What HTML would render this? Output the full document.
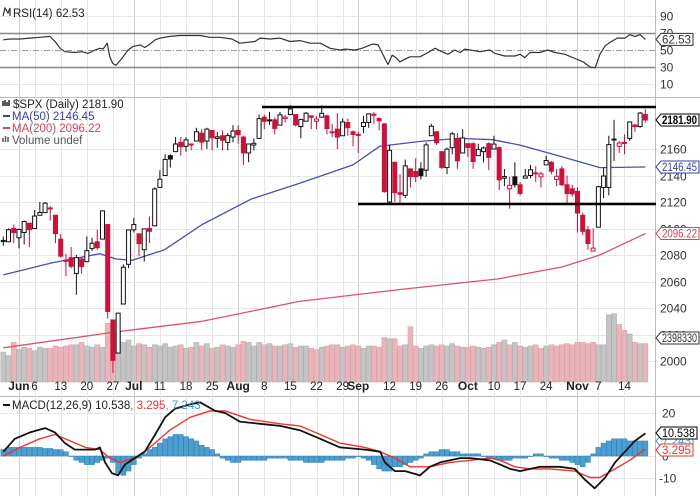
<!DOCTYPE html>
<html><head><meta charset="utf-8"><style>
html,body{margin:0;padding:0;background:#fff;}
svg{display:block;font-family:"Liberation Sans",sans-serif;}
</style></head><body>
<svg id="chart" width="700" height="496" viewBox="0 0 700 496" xmlns="http://www.w3.org/2000/svg">
<rect x="0" y="0" width="700" height="496" fill="#fff"/>
<defs><clipPath id="mclip"><rect x="0" y="397" width="655" height="99"/></clipPath></defs>
<g id="grid"></g>
<g id="vol"></g>
<g id="lines"></g>
<g id="candles"></g>
<g id="ann"></g>
<g id="labels"></g>
</svg>
<script>
const opens=[2091,2090,2100,
2093,2097,2104,2100,2110,2112,2115,2110,2092,2076,2078,2066,2077,2075,2085,2090,2092,2103,2031,2006,2043,2073,
2099,2096,2084,2100,2102,2131,2140,2155,2158,2165,2162,2163,2166,2172,2166,2174,2168,2170,2165,2169,
2174,2169,2157,2163,2168,2184,2182,2182,2178,2183,2186,2186,2177,2181,2185,2181,2184,2185,2173,2175,2170,2180,2173,
2171,2177,2180,2186,2183,2179,2120,2150,2127,2125,2145,2143,2145,2144,2170,2173,2158,2146,2161,2168,2157,
2164,2164,2155,2158,2164,2160,2161,2138,2130,2139,2133,2138,2140,2142,2139,2148,2150,2137,2145,2133,2130,
2128,2110,2099,2083,2101,2131,2131,2167,2162,2165,2168,2178,2177,2186];
const highs=[2094,2100,2103,
2100,2106,2104,2114,2120,2120,2117,2110,2096,2081,2086,2080,2078,2094,2093,2099,2113,2103,2031,2036,2073,2098,
2108,2096,2100,2109,2131,2144,2156,2156,2169,2169,2169,2164,2176,2175,2176,2174,2173,2174,2172,2178,
2178,2170,2164,2168,2186,2186,2188,2184,2188,2186,2193,2186,2183,2188,2185,2185,2193,2186,2179,2187,2183,2183,2174,
2173,2185,2187,2188,2184,2179,2163,2150,2141,2152,2145,2153,2150,2165,2179,2173,2158,2161,2173,2172,2175,
2164,2165,2164,2162,2165,2170,2162,2145,2139,2150,2135,2145,2148,2147,2143,2155,2151,2145,2147,2140,2133,
2131,2112,2102,2100,2132,2146,2170,2182,2166,2171,2180,2179,2188,2190];
const lows=[2087,2090,2089,
2085,2088,2086,2100,2110,2112,2106,2089,2078,2064,2070,2050,2066,2075,2083,2084,2092,2032,1991,2006,2043,2070,
2097,2079,2075,2089,2102,2131,2140,2146,2158,2155,2158,2159,2166,2159,2160,2159,2161,2159,2159,2165,
2164,2148,2150,2159,2168,2175,2178,2171,2178,2180,2186,2177,2168,2181,2175,2175,2184,2171,2169,2160,2170,2170,2162,
2157,2172,2176,2179,2174,2127,2119,2120,2119,2123,2131,2135,2137,2139,2170,2163,2145,2141,2156,2145,2157,
2154,2145,2155,2150,2144,2160,2129,2132,2115,2131,2125,2138,2138,2135,2131,2148,2141,2132,2132,2119,2124,
2097,2095,2084,2083,2101,2123,2125,2151,2157,2156,2166,2173,2176,2180];
const closes=[2090.1,2099.1,2096.9,
2099.3,2105.3,2099.1,2109.4,2112.1,2119.1,2115.5,2096.1,2079.1,2075.3,2071.5,2078,2071.2,2083.3,2088.9,2085.5,2113.3,2037.4,2000.5,2036.1,2070.8,2098.9,
2103,2088.6,2099.7,2097.9,2129.9,2137.2,2152.1,2152.4,2163.8,2161.7,2166.9,2163.8,2173,2165.2,2175,2168.5,2169.2,2166.6,2170.1,2173.6,
2170.8,2157,2163.8,2164.3,2182.9,2180.9,2181.7,2175.5,2185.8,2184.1,2190.2,2178.2,2182.2,2187,2183.9,2182.6,2186.9,2175.4,2172.5,2169,2180.4,2176.1,2171,
2170.9,2180,2186.5,2186.2,2181.3,2127.8,2159,2127,2125.8,2147.3,2139.2,2139.1,2139.8,2163.1,2177.2,2164.7,2146.1,2159.9,2171.4,2151.1,2168.3,
2161.2,2150.5,2159.7,2160.8,2153.7,2163.7,2136.7,2139.2,2132.6,2133,2126.5,2139.6,2144.3,2141.3,2141.2,2151.3,2143.2,2139.4,2133,2126.4,2126.2,
2111.7,2097.9,2088.7,2085.2,2131.5,2139.6,2163.3,2167.5,2164.5,2164.2,2180.4,2176.9,2187.1,2181.9];
const volumes=[2.5,2.2,3.3,
2.7,2.9,2.8,2.6,2.9,2.8,2.8,3.0,2.9,3.0,3.1,3.1,3.3,3.0,2.9,3.1,2.9,4.9,3.8,4.2,3.3,3.5,
3.0,3.2,3.1,2.9,3.1,3.0,3.2,2.9,3.0,3.1,2.8,2.9,3.3,3.0,3.2,2.8,2.9,3.1,3.0,2.9,
3.1,3.4,3.3,3.0,3.3,3.1,3.2,3.0,3.0,3.1,3.2,2.9,3.0,3.0,2.8,2.7,2.9,3.0,3.1,3.1,2.9,3.0,3.1,
3.0,2.8,3.0,3.0,2.9,3.7,3.6,3.6,3.0,3.1,4.6,3.0,2.8,3.0,3.1,3.0,3.1,3.0,3.2,3.0,2.9,
2.9,3.0,2.9,2.8,2.9,3.1,3.3,3.5,3.1,3.3,3.0,2.9,3.0,3.1,2.8,3.0,3.1,3.0,3.1,3.2,3.1,
3.3,3.3,3.2,3.3,3.1,3.1,5.6,5.7,4.8,4.3,4.0,3.3,3.2,3.2];
const maDays=[0,9.3,18.5,21.6,24.7,30.9,38.1,47.4,56.7,67,72.1,80.3,87.6,93.7,98.9,107.1,114.3,123];
const ma50=[2065,2074,2081,2077,2076,2084,2103,2122,2134,2148,2162,2166,2168,2167,2163,2154,2146,2146.45];
const ma200Days=[0,21.6,38.1,56.7,76.2,94.8,107.1,114.3,123];
const ma200=[2010,2022,2030,2045,2054,2062,2071,2080,2096.22];
const rsiDays=[0,1.3,3.2,5.1,7,8.9,9.9,10.9,11.8,13.7,15.1,16.2,17.6,18.5,19.1,19.9,20.4,21,21.6,22.7,23.9,24.8,26.2,27.1,28.1,29.1,30,31.9,33.8,37.7,39.6,41.5,43.8,45.3,48.2,49.2,51.1,53,54.9,56.8,58.8,60.7,62.6,64.5,65.5,67.4,68.7,69.9,70.8,71.8,73.1,73.7,74.5,75.2,76,76.9,77.9,79.8,81.4,82.7,84,85.2,86.5,87.5,88.4,90.4,91.3,93.2,94.2,96.1,98,99,99.9,100.9,102.8,104.3,105.7,107.6,109.5,111.1,112.4,113.4,114.3,115.3,116.2,117.6,119.1,120,121,122,123];
const rsiVals=[62,63,63,64,65,66,60,52,48,47,48,46,50,52,51,58,42,34,32,40,50,54,56,53,57,62,64,66,67,67,65,65,63,58,60,64,63,64,60,61,58,58,52,50,51,50,52,55,57,56,40,33,44,41,36,39,42,42,47,52,48,45,50,47,51,49,48,50,46,43,43,45,41,47,47,50,47,45,40,36,30,29,45,55,59,64,64,68,66,68,62.5];
const macdDays=[0,2.2,5.1,8,9.9,11.8,13.7,15.7,17.6,18.5,19.5,20.8,22,23.3,25.2,27.1,29.1,31,32.9,35.8,37.7,40.6,42.5,45.3,49.2,53,56.8,60.7,64.5,69.3,72.2,73.1,75,77,79.8,81.7,83.7,85.6,87.5,89.4,93.2,95.2,97.1,99,102.8,106.6,109.5,111.4,113.3,115.3,117.2,119.1,121,123];
const macdVals=[2,8,11,13,11,6,3,3,3,4,-3,-8,-9,-4,-1,2,10,18,22,24,25,21,20,16,15,14,12,8,4,3,2,-3,-7,-7,-9,-5,-3,-2,-1,-1,-2,-4,-6,-7,-5,-5,-6,-11,-15,-10,-3,2,7,10.5];
const sigDays=[0,3.2,7,9.9,12.8,15.7,18.5,20.4,22.4,25.2,28.1,31.9,35.8,39.6,42.5,47.3,53,56.8,60.7,64.5,69.3,72.2,75,77.9,81.7,85.6,89.4,93.2,95.2,98,100.9,104.7,109.5,112.4,114.3,117.2,120,123];
const sigVals=[0,4,8,10,7,4,3,-1,-3,-1,4,12,18,21,21,17,15,14,10,6,4,2,-1,-5,-5,-3,-2,-1,-2,-5,-6,-6,-7,-10,-10,-6,-2,3.3];
const hist=[3,4,4,4,4,4,4,4,3.5,3.5,3,3,2,0,-2,-3,-4,-4,-3,-2,-1,-3,-8,-9,-7,-4,-1,1,3,4,6,8,9,10,10,9,8,7,5,4,3,1,-1,-2,-3,-3,-2,-2,-2,-2,-2,-1,-1,-1,-1,-2,-2,-2,-3,-3,-3,-3,-2,-2,-2,-2,-1,-1,0,-1,-2,-4,-6,-7,-7,-5,-5,-4,-3,-2,-1,1,2,2,3,3,2,2,1,1,1,1,0,-1,-1,-2,-2,-2,-1,-1,-1,0,1,1,0,-1,-1,-2,-2,-3,-4,-5,-3,1,4,6,7,8,8,8,7,7,7,7];
const xLabels=["Jun","6","13","20","27","Jul","11","18","25","Aug","8","15","22","29","Sep","12","19","26","Oct","10","17","24","Nov","7","14"];
const xLabelDays=[3,6,11,16,21,25,30,35,40,45,50,55,60,65,68,74,79,84,89,94,99,104,110,114,119];
const xLabelBold=[1,0,0,0,0,1,0,0,0,1,0,0,0,0,1,0,0,0,1,0,0,0,1,0,0];
const priceTicks=[2000,2020,2040,2060,2080,2100,2120,2140,2160];
const rsiTicks=[90,70,50,30,10];
const macdTicks=[20,0,-10];

const NS="http://www.w3.org/2000/svg";
const PR=655;
function X(i){return 3.3+i*5.22;}
function PY(v){return 149+(2160-v)*1.325;}
function RY(v){return 33+(70-v)*0.85;}
function MY(v){return 456-v*2.15;}
function VY(v){return 382-v*12;}
function mk(tag,attrs,parent){const e=document.createElementNS(NS,tag);for(const k in attrs)e.setAttribute(k,attrs[k]);document.getElementById(parent).appendChild(e);return e;}
function txt(s,x,y,attrs,parent){const e=mk('text',Object.assign({x:x,y:y,'font-size':11},attrs),parent);e.textContent=s;return e;}

let e;
e=mk('line',{x1:0,y1:97.5,x2:700,y2:97.5,stroke:'#bbb'},'grid');
e=mk('line',{x1:0,y1:396.5,x2:700,y2:396.5,stroke:'#bbb'},'grid');
e=mk('line',{x1:PR+0.5,y1:0,x2:PR+0.5,y2:496,stroke:'#bbb'},'grid');
xLabelDays.forEach((d,k)=>{
  const x=Math.round(X(d))+0.5;
  const g=mk('line',{x1:x,y1:0,x2:x,y2:496,stroke:xLabelBold[k]?'#cfcfcf':'#e6e6e6'},'grid');
  
  
});
priceTicks.forEach(v=>{
  const y=Math.round(PY(v))+0.5;
  const g=mk('line',{x1:0,y1:y,x2:PR,y2:y,stroke:'#e6e6e6'},'grid');
  
  
  const t=txt(String(v),660,y+4,{fill:'#333','font-size':12},'labels');
  
  
});
rsiTicks.forEach(v=>{
  const y=Math.round(RY(v))+0.5;
  const strong=(v===70||v===30);
  const g=mk('line',{x1:0,y1:y,x2:PR,y2:y,stroke:strong?'#888':(v===50?'#999':'#e6e6e6'),'stroke-width':strong?1.5:1,'stroke-dasharray':v===50?'6,2,1,2':'none'},'grid');
  
  
  const t=txt(String(v),660,y+4,{fill:'#333','font-size':12},'labels');
  
  
});
macdTicks.forEach(v=>{
  const y=Math.round(MY(v))+0.5;
  const g=mk('line',{x1:0,y1:y,x2:PR,y2:y,stroke:'#e6e6e6'},'grid');
  
  
  const t=txt(String(v),v<0?659:662,y+4,{fill:'#333','font-size':12},'labels');
  
  
});
xLabels.forEach((s,k)=>{
  const t=txt(s,X(xLabelDays[k]),390,{'text-anchor':'middle',fill:'#222','font-size':xLabelBold[k]?12:11.5,'font-weight':xLabelBold[k]?'bold':'normal'},'labels');
  
  
});

volumes.forEach((v,i)=>{
  const down=i>0&&closes[i]<closes[i-1];
  const r=mk('rect',{x:X(i)-2.5,y:VY(v),width:5,height:382-VY(v),fill:down?'#eab4bb':'#c4c4c4',stroke:down?'#dd99a2':'#aaa','stroke-width':0.5},'vol');
  
  
});

function poly(days,vals,yf,color,w,name){
  const pts=days.map((d,k)=>X(d).toFixed(1)+','+yf(vals[k]).toFixed(1)).join(' ');
  const p=mk('polyline',{points:pts,fill:'none',stroke:color,'stroke-width':w,'stroke-linejoin':'round'},'lines');
  
  
  return p;
}
poly(maDays,ma50,PY,'#4a4fb0',1.3,'ma50-line');
poly(ma200Days,ma200,PY,'#e0506a',1.3,'ma200-line');
poly(rsiDays,rsiVals,RY,'#333',1.2,'rsi-line');
hist.forEach((h,i)=>{
  const y0=MY(0),y1=MY(h);
  const r=mk('rect',{x:X(i)-2.5,y:Math.min(y0,y1),width:5,height:Math.abs(y1-y0)||0.5,fill:'#4a9fd0',stroke:'#2d7fb0','stroke-width':0.5},'lines');
  
  
});
poly(sigDays,sigVals,MY,'#ee3333',1.4,'macd-signal-line').setAttribute('clip-path','url(#mclip)');
poly(macdDays,macdVals,MY,'#111',1.8,'macd-line').setAttribute('clip-path','url(#mclip)');

closes.forEach((c,i)=>{
  const o=opens[i];
  const down=i>0&&c<closes[i-1];
  const col=down?'#d0103a':'#111';
  const x=X(i);
  const w=mk('line',{x1:x,y1:PY(highs[i]),x2:x,y2:PY(lows[i]),stroke:col,'stroke-width':1},'candles');
  
  
  const top=PY(Math.max(o,c)),bot=PY(Math.min(o,c));
  const b=mk('rect',{x:x-2,y:top,width:4,height:Math.max(bot-top,1),fill:c>o?'#fff':col,stroke:col,'stroke-width':1},'candles');
  
  
});

e=mk('line',{x1:262,y1:107,x2:656,y2:107,stroke:'#000','stroke-width':2.5},'ann');
e=mk('line',{x1:358,y1:204,x2:656,y2:204,stroke:'#000','stroke-width':2.5},'ann');

function leg(s,x,y,color,name){const t=txt(s,x,y,{fill:color,'font-size':11.5},'labels');}
leg('RSI(14) 62.53',13,17,'#222','rsi-legend');
e=mk('path',{d:'M3 16 L5 8 L8 13 L10 8 V16',stroke:'#333',fill:'none','stroke-width':1.2},'labels');
leg('$SPX (Daily) 2181.90',13,108,'#222','price-legend');
e=mk('path',{d:'M3 106 V101 M5 106 V100 M7 106 V102 M9 106 V100',stroke:'#222','stroke-width':1.5},'labels');
leg('MA(50) 2146.45',12,120,'#3a3fa8','ma50-legend');
e=mk('line',{x1:3,y1:116,x2:10,y2:116,stroke:'#3a3fa8','stroke-width':2},'labels');
leg('MA(200) 2096.22',12,132,'#e0405a','ma200-legend');
e=mk('line',{x1:3,y1:128,x2:10,y2:128,stroke:'#e0405a','stroke-width':2},'labels');
leg('Volume undef',12,144,'#555','volume-legend');
e=mk('path',{d:'M3 142 V138 M5.5 142 V136 M8 142 V137',stroke:'#666','stroke-width':1.6},'labels');
const mt=mk('text',{x:12,y:409,'font-size':11.5,fill:'#222'},'labels');
mt.innerHTML='MACD(12,26,9) 10.538<tspan fill="#ee3333">, 3.295</tspan><tspan fill="#3a9fd8">, 7.243</tspan>';


e=mk('line',{x1:3,y1:405,x2:10,y2:405,stroke:'#111','stroke-width':2},'labels');

function tag(s,y,color,bold,name,w){
  const p=mk('path',{d:`M656 ${y} L661 ${y-6} H${661+w} V${y+6} H661 Z`,fill:'#fff',stroke:color,'stroke-width':1},'labels');
  
  
  const t=txt(s,662,y+4,{fill:bold?'#000':color,'font-size':11.5,'font-weight':bold?'bold':'normal',textLength:w-3,lengthAdjust:'spacingAndGlyphs'},'labels');
  
  
}
tag('62.53',RY(rsiVals[rsiVals.length-1]),'#333',false,'rsi-value-tag',32);
tag('2181.90',PY(closes[closes.length-1]),'#000',true,'price-value-tag',38);
tag('2146.45',PY(ma50[ma50.length-1]),'#3a3fa8',false,'ma50-value-tag',38);
tag('2096.22',PY(ma200[ma200.length-1]),'#e0405a',false,'ma200-value-tag',38);
tag('2398330',338,'#333',false,'volume-value-tag',38);
tag('7.243',441,'#3a9fd8',false,'macd-hist-value-tag',32);
tag('10.538',433,'#000',false,'macd-value-tag',36);
tag('3.295',450,'#ee3333',false,'macd-signal-value-tag',32);
</script>
</body></html>
